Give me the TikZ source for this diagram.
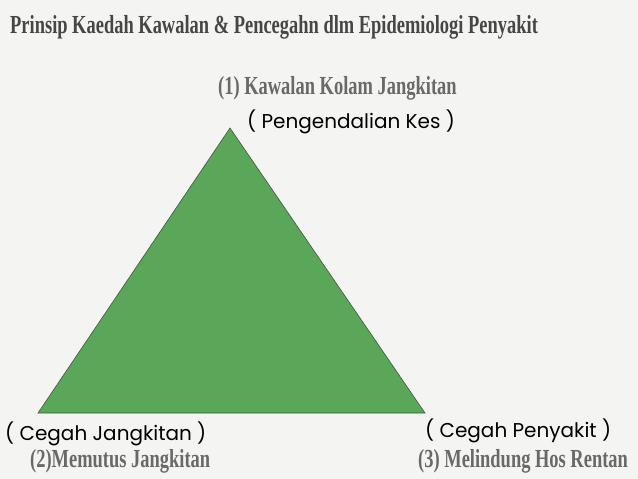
\documentclass[tikz,border=0pt]{standalone}
\usepackage{fontspec}
\newfontfamily\condfont[FakeStretch=0.71]{Liberation Serif}
\newfontfamily\handfont{Poppins}
\definecolor{paper}{RGB}{244,244,242}
\definecolor{leaf}{RGB}{90,167,90}
\definecolor{leafedge}{RGB}{60,90,60}
\definecolor{inkgray}{RGB}{70,70,70}
\definecolor{softgray}{RGB}{105,105,105}
\tikzset{
  heading/.style={inner sep=0pt, anchor=base west, text=inkgray, font=\condfont\bfseries\fontsize{26}{28}\selectfont},
  corner/.style={inner sep=0pt, anchor=base west, text=softgray, font=\condfont\bfseries\fontsize{26}{28}\selectfont},
  note/.style={inner sep=0pt, anchor=base west, text=black, font=\handfont\fontsize{20}{22}\selectfont}
}
\begin{document}
\begin{tikzpicture}[x=1pt,y=-1pt]
\fill [paper] (0,0) rectangle (638,479);
\useasboundingbox (0,0) rectangle (638,479);
% title
\node [heading] (title) at (10,34) {Prinsip Kaedah Kawalan \& Pencegahn dlm Epidemiologi Penyakit};
% triangle
\coordinate (top) at (230,128);
\coordinate (left) at (38,413);
\coordinate (right) at (425,413);
\filldraw [fill=leaf, draw=leafedge, line width=0.6pt] (top) -- (right) -- (left) -- cycle;
% corners
\node [corner] (one) at (218,94) {(1) Kawalan Kolam Jangkitan};
\node [note] (kes) at (247,128) {( Pengendalian Kes )};
\node [note] (cegahj) at (5,440) {( Cegah Jangkitan )};
\node [corner] (two) at (30,467) {(2)Memutus Jangkitan};
\node [note] (cegahp) at (425,437) {( Cegah Penyakit )};
\node [corner] (three) at (418,467) {(3) Melindung Hos Rentan};
\end{tikzpicture}
\end{document}
